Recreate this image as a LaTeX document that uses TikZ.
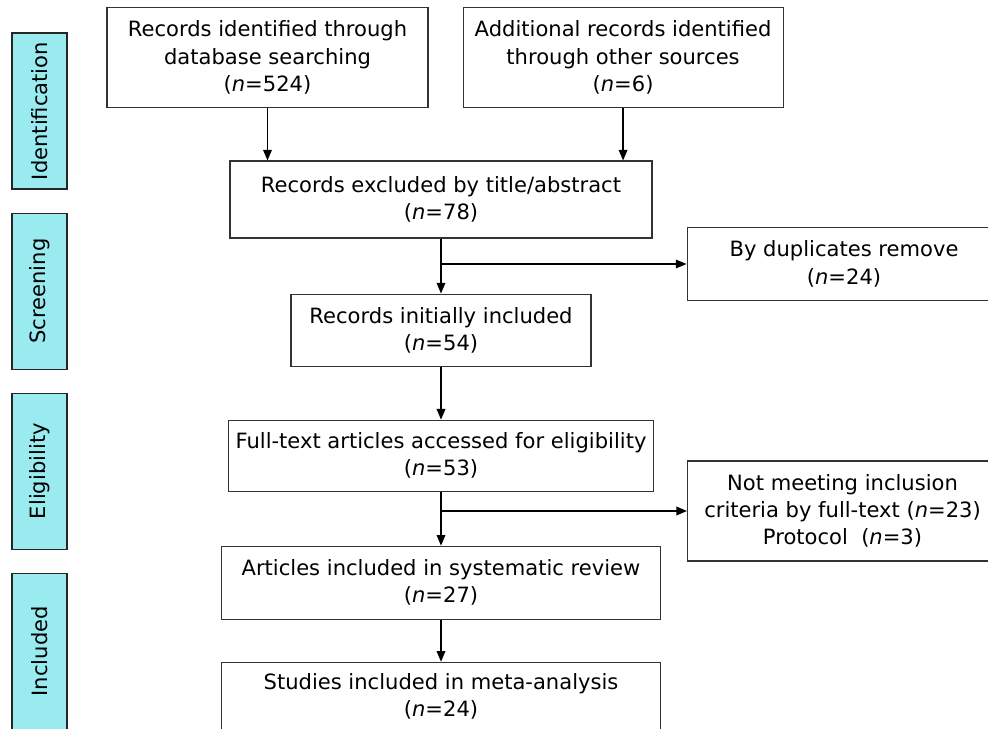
\documentclass[tikz,border=0pt]{standalone}
\usepackage{fontspec}
\setmainfont{DejaVu Sans}
\usepackage{graphicx}
\usepackage{tikz}
\usetikzlibrary{positioning,arrows.meta}
\definecolor{phasecyan}{RGB}{153,235,240}

\begin{document}
\begin{tikzpicture}[
x=0.75pt, y=-0.75pt,
font=\fontsize{15.8}{20.5}\selectfont,
box/.style={
draw=black!80,
line width=0.8pt,
rectangle,
align=center,
inner sep=0pt
},
phase/.style={
draw=black!85,
line width=0.8pt,
fill=phasecyan,
rectangle,
minimum width=41.25pt,
minimum height=117pt,
inner sep=0pt
},
flow/.style={-{Triangle[length=8pt,width=6.5pt]}, line width=1pt}
]
\useasboundingbox (0,0) rectangle (988,728);

\node[phase] (ident) at (39.5,111) {\rotatebox{90}{Identification}};
\node[phase, below=17.25pt of ident] (screen) {\rotatebox{90}{Screening}};
\node[phase, below=17.25pt of screen] (elig) {\rotatebox{90}{Eligibility}};
\node[phase, below=17.25pt of elig] (incl) {\rotatebox{90}{Included}};

\node[box, minimum width=240.75pt, minimum height=75pt] (dbsearch) at (267.5,57.5)
{Records identified through \\ database searching \\ (\textit{n}=524)};

\node[box, minimum width=240pt, minimum height=75pt, right=25.5pt of dbsearch] (othersrc)
{Additional records identified \\ through other sources \\ (\textit{n}=6)};

\node[box, minimum width=316.5pt, minimum height=57.75pt] (titleabs) at (441,199.5)
{Records excluded by title/abstract \\ (\textit{n}=78)};

\node[box, minimum width=225pt, minimum height=54pt, below=41.25pt of titleabs] (initinc)
{Records initially included \\ (\textit{n}=54)};

\node[box, minimum width=318.75pt, minimum height=53.25pt, below=39.75pt of initinc] (fulltext)
{Full-text articles accessed for eligibility \\ (\textit{n}=53)};

\node[box, minimum width=329.25pt, minimum height=54.75pt, below=40.5pt of fulltext] (sysrev)
{Articles included in systematic review \\ (\textit{n}=27)};

\node[box, minimum width=329.25pt, minimum height=51pt, below=31.5pt of sysrev] (meta)
{Studies included in meta-analysis \\ (\textit{n}=24)};

\node[box, anchor=west, minimum width=235.5pt, minimum height=54.75pt] (dupl) at (686.5,264)
{By duplicates remove \\ (\textit{n}=24)};

\node[box, anchor=west, minimum width=232.5pt, minimum height=75pt] (notmeet) at (687,511)
{Not meeting inclusion \\ criteria by full-text (\textit{n}=23) \\ Protocol~~(\textit{n}=3)};

\draw[flow] (dbsearch.south) -- (dbsearch.south |- titleabs.north);
\draw[flow] (othersrc.south) -- (othersrc.south |- titleabs.north);
\draw[flow] (titleabs.south) -- (initinc.north);
\draw[flow] (titleabs.south |- dupl.west) -- (dupl.west);
\draw[flow] (initinc.south) -- (fulltext.north);
\draw[flow] (fulltext.south) -- (sysrev.north);
\draw[flow] (fulltext.south |- notmeet.west) -- (notmeet.west);
\draw[flow] (sysrev.south) -- (meta.north);
\end{tikzpicture}
\end{document}
